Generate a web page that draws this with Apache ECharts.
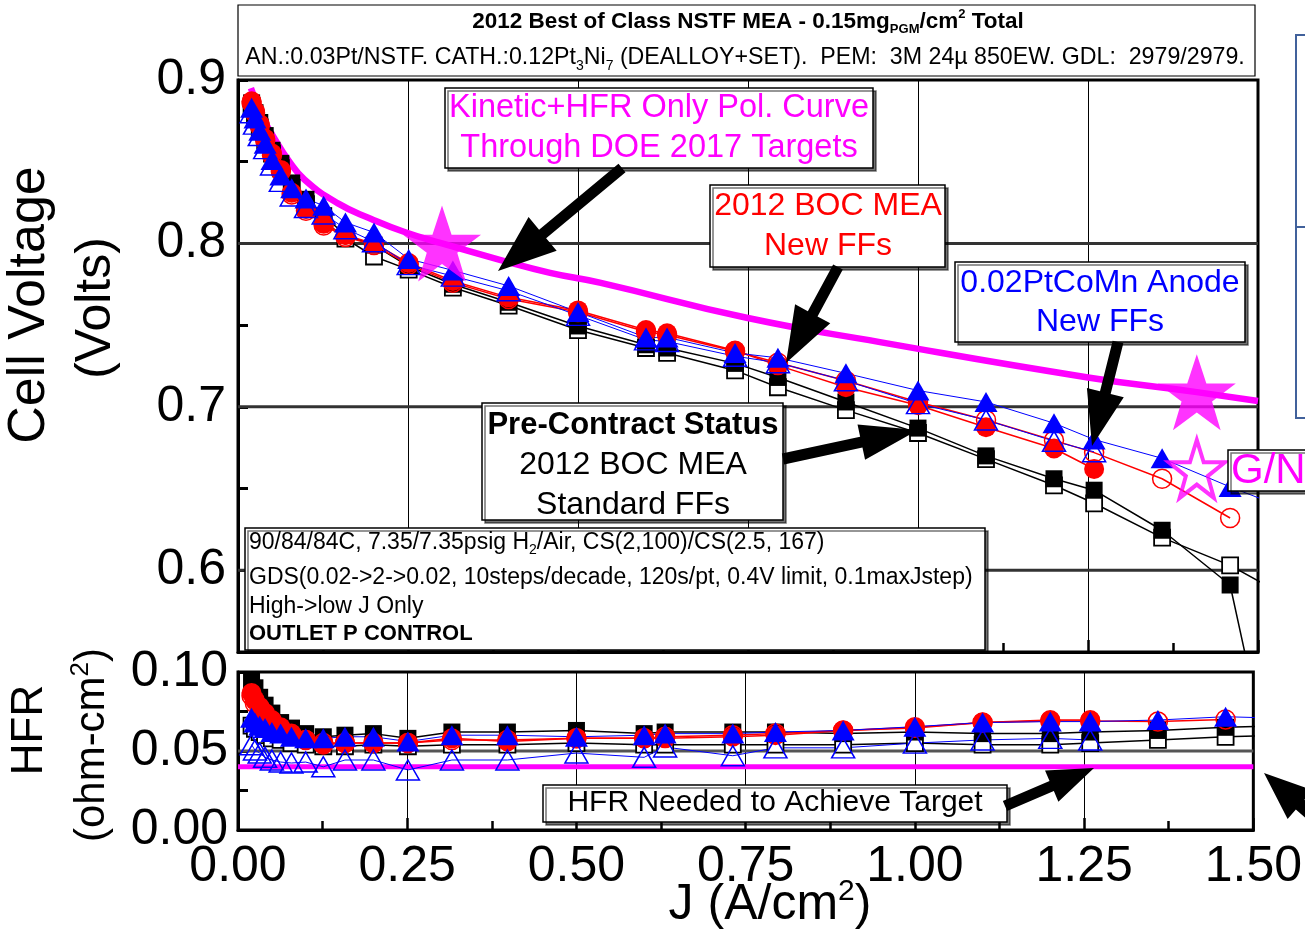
<!DOCTYPE html>
<html><head><meta charset="utf-8">
<script src="https://cdn.jsdelivr.net/npm/echarts@6/dist/echarts.min.js"></script>
<style>html,body{margin:0;padding:0;background:#fff}#c{width:1305px;height:943px}</style>
</head><body><div id="c"></div>
<script>
// ---------- DATA ----------
const J = [0.02,0.025,0.032,0.04,0.05,0.063,0.079,0.1,0.126,0.158,0.2,0.251,0.316,0.398,0.5,0.6,0.631,0.731,0.794,0.894,1.0,1.1,1.2,1.259,1.359,1.459,1.559];

// Cell voltage (V)
const vBlackOpen   = [0.884,0.878,0.871,0.863,0.855,0.846,0.834,0.824,0.814,0.803,0.792,0.784,0.773,0.762,0.747,0.736,0.733,0.7223,0.712,0.698,0.684,0.668,0.652,0.641,0.620,0.603,0.580];
const vBlackFilled = [0.886,0.880,0.874,0.866,0.857,0.849,0.837,0.827,0.817,0.805,0.799,0.786,0.775,0.764,0.7495,0.738,0.736,0.7266,0.718,0.703,0.687,0.670,0.656,0.649,0.6245,0.591,0.400];
const vRedOpen     = [0.886,0.880,0.872,0.863,0.854,0.844,0.830,0.820,0.811,0.804,0.799,0.787,0.776,0.766,0.758,0.746,0.744,0.734,0.727,0.716,0.703,0.692,0.6795,0.672,0.656,0.632];
const vRedFilled   = [0.887,0.881,0.873,0.864,0.855,0.845,0.831,0.821,0.812,0.805,0.800,0.788,0.777,0.767,0.759,0.747,0.745,0.7345,0.7254,0.712,0.701,0.6875,0.6745,0.662];
const vBlueOpen    = [0.880,0.873,0.866,0.858,0.848,0.838,0.829,0.822,0.818,0.809,0.801,0.787,0.780,0.771,0.756,0.741,0.740,0.731,0.727,0.716,0.702,0.692,0.679,0.6725];
const vBlueFilled  = [0.883,0.8765,0.869,0.861,0.851,0.8416,0.8337,0.8275,0.823,0.8128,0.8067,0.7905,0.7835,0.774,0.758,0.7425,0.7425,0.733,0.730,0.7205,0.710,0.703,0.690,0.680,0.6685,0.651,0.635];

// HFR (ohm-cm2)
const hBlackOpen   = [0.066,0.064,0.062,0.060,0.058,0.057,0.055,0.054,0.053,0.053,0.054,0.053,0.054,0.054,0.055,0.054,0.054,0.054,0.054,0.054,0.055,0.054,0.054,0.055,0.057,0.059,0.060];
const hBlackFilled = [0.095,0.090,0.084,0.079,0.074,0.068,0.0645,0.061,0.059,0.060,0.061,0.058,0.062,0.062,0.063,0.061,0.062,0.062,0.062,0.061,0.062,0.061,0.061,0.062,0.063,0.065,0.066];
const hRedOpen     = [0.085,0.080,0.076,0.072,0.068,0.064,0.060,0.057,0.055,0.055,0.055,0.055,0.057,0.057,0.058,0.058,0.059,0.060,0.061,0.063,0.065,0.068,0.069,0.069,0.0686,0.070];
const hRedFilled   = [0.0867,0.082,0.078,0.074,0.0696,0.065,0.061,0.057,0.054,0.055,0.055,0.055,0.058,0.056,0.058,0.058,0.058,0.059,0.060,0.063,0.0645,0.068,0.0696,0.0696];
const hBlueOpen    = [0.054,0.0506,0.0487,0.046,0.0443,0.043,0.0424,0.043,0.040,0.0443,0.0443,0.038,0.0443,0.0443,0.0487,0.046,0.0525,0.047,0.052,0.052,0.055,0.057,0.058,0.057];
const hBlueFilled  = [0.071,0.068,0.066,0.0645,0.062,0.061,0.059,0.058,0.058,0.059,0.059,0.056,0.060,0.060,0.059,0.060,0.061,0.061,0.062,0.063,0.0654,0.068,0.0686,0.0686,0.0696,0.0717,0.0705];

// Kinetic + HFR only polarization curve
const curveJ = [0.019,0.03,0.04,0.054,0.074,0.098,0.147,0.196,0.245,0.3,0.385,0.459,0.532,0.748,0.944,1.25,1.41,1.5];
const curveV = [0.895,0.883,0.874,0.864,0.851,0.839,0.8245,0.815,0.807,0.800,0.790,0.782,0.776,0.7545,0.7396,0.718,0.709,0.7036];

// DOE targets (stars)
const starJ = [0.3, 1.41];
const starV = [0.8, 0.709];
const openStarJ = [1.41];
const openStarV = [0.662];

// HFR target line
const hfrTargetJ = [0, 1.5];
const hfrTargetV = [0.04, 0.04];

// reference grid lines and axis ranges
const vGrid = [0.6, 0.7, 0.8];
const hGrid = [0.05];
const xTicks = [0, 1.5, 0.25]; // min, max, interval
const vAxis = [0.55, 0.9, 0.05];
const hAxis = [0, 0.1, 0.025];

// ---------- CHART ----------
const FONT = 'Liberation Sans, Arial, sans-serif';
const zip = (xs, ys) => ys.map((y, i) => [xs[i], y]);
const BLACK = '#000', RED = '#ff0000', BLUE = '#0000ff', MAG = '#ff00ff';

function ds(name, gi, ys, sym, size, fill, stroke, bw, lw) {
  return {
    name, type: 'line', xAxisIndex: gi, yAxisIndex: gi,
    data: zip(J, ys), symbol: sym, symbolSize: size, showAllSymbol: true,
    itemStyle: { color: fill, borderColor: stroke, borderWidth: bw },
    lineStyle: { color: stroke, width: lw }, z: 3, clip: true
  };
}
const gridSeries = (gi, vals, color, w) => vals.map(v => ({
  type: 'line', xAxisIndex: gi, yAxisIndex: gi, data: [[xTicks[0], v], [xTicks[1], v]],
  symbol: 'none', lineStyle: { color, width: w }, z: 1, silent: true
}));

const STAR = 'path://M50,0 L61.8,35.1 L98.1,35.1 L68.8,56.7 L79.4,91 L50,70 L20.6,91 L31.2,56.7 L1.9,35.1 L38.2,35.1 Z';
const TRI = [23, 20];

const series = [
  ...gridSeries(0, vGrid, '#333', 3),
  ...gridSeries(1, hGrid, '#555', 3),
  { type: 'line', xAxisIndex: 0, yAxisIndex: 0, data: zip(curveJ, curveV), smooth: true, symbol: 'none',
    lineStyle: { color: MAG, width: 6.5 }, z: 2 },
  { type: 'line', xAxisIndex: 1, yAxisIndex: 1, data: zip(hfrTargetJ, hfrTargetV), symbol: 'none',
    lineStyle: { color: MAG, width: 5 }, z: 2 },
  ds('bo', 0, vBlackOpen, 'rect', 16, '#fff', BLACK, 1.8, 1.5),
  ds('bf', 0, vBlackFilled, 'rect', 17, BLACK, BLACK, 0, 1.5),
  ds('ro', 0, vRedOpen, 'circle', 19, 'rgba(0,0,0,0)', RED, 1.5, 1.5),
  ds('rf', 0, vRedFilled, 'circle', 20, RED, RED, 0, 1.5),
  ds('uo', 0, vBlueOpen, 'triangle', TRI, 'rgba(0,0,0,0)', BLUE, 1.5, 1),
  ds('uf', 0, vBlueFilled, 'triangle', TRI, BLUE, BLUE, 0, 1),
  ds('hbo', 1, hBlackOpen, 'rect', 16, '#fff', BLACK, 1.8, 1.5),
  ds('hbf', 1, hBlackFilled, 'rect', 17, BLACK, BLACK, 0, 1.5),
  ds('hro', 1, hRedOpen, 'circle', 19, 'rgba(0,0,0,0)', RED, 1.5, 1.5),
  ds('hrf', 1, hRedFilled, 'circle', 20, RED, RED, 0, 1.5),
  ds('huo', 1, hBlueOpen, 'triangle', TRI, 'rgba(0,0,0,0)', BLUE, 1.5, 1),
  ds('huf', 1, hBlueFilled, 'triangle', TRI, BLUE, BLUE, 0, 1),
  { type: 'scatter', xAxisIndex: 0, yAxisIndex: 0, data: zip(starJ, starV), symbol: STAR, symbolSize: [78, 76],
    itemStyle: { color: MAG }, z: 5 },
  { type: 'scatter', xAxisIndex: 0, yAxisIndex: 0, data: zip(openStarJ, openStarV), symbol: STAR, symbolSize: [56, 58],
    itemStyle: { color: 'rgba(255,255,255,0)', borderColor: MAG, borderWidth: 4 }, z: 5 }
];

const axisLabelStyle = { color: '#000', fontSize: 50, fontFamily: FONT };
const option = {
  animation: false,
  backgroundColor: '#fff',
  grid: [
    { left: 238, top: 80, width: 1020, height: 572, show: true, borderColor: '#000', borderWidth: 3, backgroundColor: 'transparent' },
    { left: 238, top: 672, width: 1020, height: 158, show: true, borderColor: '#000', borderWidth: 3, backgroundColor: 'transparent' }
  ],
  xAxis: [0, 1].map(gi => ({
    type: 'value', gridIndex: gi, min: xTicks[0], max: xTicks[1], interval: xTicks[2],
    axisLine: { lineStyle: { color: '#000', width: 3 } },
    axisTick: { inside: true, length: 12, lineStyle: { color: '#000', width: 2.5 } },
    minorTick: { show: true, splitNumber: 2, length: 9, lineStyle: { color: '#000', width: 2.5 } },
    splitLine: { show: true, lineStyle: { color: '#000', width: 1 } },
    axisLabel: gi === 1 ? Object.assign({ margin: 12, formatter: v => v.toFixed(2) }, axisLabelStyle) : { show: false }
  })),
  yAxis: [
    { type: 'value', gridIndex: 0, min: vAxis[0], max: vAxis[1], interval: vAxis[2],
      axisLine: { lineStyle: { color: '#000', width: 3 } },
      axisTick: { inside: true, length: 10, lineStyle: { color: '#000', width: 3 } },
      splitLine: { show: false },
      axisLabel: Object.assign({ margin: 12, showMinLabel: true, showMaxLabel: true,
        formatter: v => Math.abs(v * 10 - Math.round(v * 10)) < 1e-6 ? v.toFixed(1) : '' }, axisLabelStyle) },
    { type: 'value', gridIndex: 1, min: hAxis[0], max: hAxis[1], interval: hAxis[2],
      axisLine: { lineStyle: { color: '#000', width: 3 } },
      axisTick: { inside: true, length: 10, lineStyle: { color: '#000', width: 3 } },
      splitLine: { show: false },
      axisLabel: Object.assign({ margin: 10, showMinLabel: true, showMaxLabel: true,
        formatter: v => Math.abs(v * 20 - Math.round(v * 20)) < 1e-6 ? v.toFixed(2) : '' }, axisLabelStyle) }
  ],
  series
};

// ---------- ANNOTATIONS ----------
const G = [];
const SH = { shadowColor: 'rgba(0,0,0,0.55)', shadowOffsetX: 3, shadowOffsetY: 3, shadowBlur: 0 };
function box(x, y, w, h, extra) {
  G.push({ type: 'rect', z: 100, shape: { x, y, width: w, height: h },
    style: Object.assign({ fill: '#fff', stroke: '#000', lineWidth: 1.5 }, SH, extra || {}) });
}
function txt(x, y, text, o) {
  G.push({ type: 'text', z: 102, x, y, rotation: (o && o.rot) || 0,
    style: Object.assign({ text, fill: '#000', fontFamily: FONT, fontSize: 32, align: 'center', verticalAlign: 'middle' }, o || {}) });
}
function arrow(x1, y1, x2, y2, sw, hl, hw) {
  const dx = x2 - x1, dy = y2 - y1, L = Math.hypot(dx, dy), ux = dx / L, uy = dy / L, nx = -uy, ny = ux;
  const bx = x2 - ux * hl, by = y2 - uy * hl;
  const p = [
    [x1 + nx * sw / 2, y1 + ny * sw / 2], [bx + nx * sw / 2, by + ny * sw / 2], [bx + nx * hw / 2, by + ny * hw / 2],
    [x2, y2], [bx - nx * hw / 2, by - ny * hw / 2], [bx - nx * sw / 2, by - ny * sw / 2], [x1 - nx * sw / 2, y1 - ny * sw / 2]
  ];
  G.push({ type: 'polygon', z: 103, shape: { points: p }, style: { fill: '#000' } });
}

// title box
box(238, 5, 1017, 71, { shadowOffsetX: 0, shadowOffsetY: 0, lineWidth: 1.2 });
txt(748, 22, '{b|2012 Best of Class NSTF MEA - 0.15mg}{bs|PGM}{b|/cm}{bp|2}{b| Total}', {
  rich: { b: { fontSize: 22.5, fontWeight: 'bold', fontFamily: FONT, lineHeight: 28 },
          bs: { fontSize: 13, fontWeight: 'bold', fontFamily: FONT, verticalAlign: 'bottom', lineHeight: 28 },
          bp: { fontSize: 13, fontWeight: 'bold', fontFamily: FONT, verticalAlign: 'top', lineHeight: 28 } } });
txt(745, 58, '{n|AN.:0.03Pt/NSTF. CATH.:0.12Pt}{s|3}{n|Ni}{s|7}{n| (DEALLOY+SET).  PEM:  3M 24\u00b5 850EW. GDL:  2979/2979.}', {
  rich: { n: { fontSize: 23.2, fontFamily: FONT, lineHeight: 30 },
          s: { fontSize: 14, fontFamily: FONT, verticalAlign: 'bottom', lineHeight: 30 } } });

// right clipped legend box
G.push({ type: 'rect', z: 100, shape: { x: 1296, y: 35, width: 80, height: 383 }, style: { fill: '#fff', stroke: '#41619b', lineWidth: 2 } });
G.push({ type: 'line', z: 101, shape: { x1: 1296, y1: 227, x2: 1310, y2: 227 }, style: { stroke: '#41619b', lineWidth: 2 } });

// Kinetic box
box(445, 88, 428, 80);
txt(659, 108, 'Kinetic+HFR Only Pol. Curve', { fill: MAG, fontSize: 32.5 });
txt(659, 148, 'Through DOE 2017 Targets', { fill: MAG, fontSize: 32.5 });
arrow(622, 168, 498, 271, 11, 58, 44);

// BOC new FFs
box(710, 185, 235, 82);
txt(828, 206, '2012 BOC MEA', { fill: RED });
txt(828, 246, 'New FFs', { fill: RED });
arrow(838, 267, 786, 363, 11, 56, 40);

// PtCoMn
box(955, 262, 290, 80);
txt(1100, 283, '0.02PtCoMn Anode', { fill: BLUE });
txt(1100, 322, 'New FFs', { fill: BLUE });
arrow(1118, 342, 1092, 446, 11, 55, 38);

// Pre-contract
box(482, 403, 301, 117);
txt(633, 425, 'Pre-Contract Status', { fontWeight: 'bold', fontSize: 31 });
txt(633, 465, '2012 BOC MEA');
txt(633, 505, 'Standard FFs');
arrow(783, 459, 918, 430, 11, 58, 36);

// G/NG
box(1228, 450, 100, 41);
txt(1231, 471, 'G/NG', { fill: MAG, fontSize: 42, align: 'left' });

// conditions box
box(245, 528, 740, 122);
txt(249, 543, '{n|90/84/84C, 7.35/7.35psig H}{s|2}{n|/Air, CS(2,100)/CS(2.5, 167)}', { align: 'left',
  rich: { n: { fontSize: 23, fontFamily: FONT, lineHeight: 28 }, s: { fontSize: 14, fontFamily: FONT, verticalAlign: 'bottom', lineHeight: 28 } } });
txt(249, 578, 'GDS(0.02->2->0.02, 10steps/decade, 120s/pt, 0.4V limit, 0.1maxJstep)', { align: 'left', fontSize: 23 });
txt(249, 607, 'High->low J Only', { align: 'left', fontSize: 23 });
txt(249, 634, 'OUTLET P CONTROL', { align: 'left', fontSize: 22, fontWeight: 'bold' });

// HFR needed
box(543, 785, 464, 37);
txt(775, 803, 'HFR Needed to Achieve Target', { fontSize: 30 });
arrow(1005, 806, 1094, 768, 11, 46, 34);
arrow(1320, 822, 1264, 773, 13, 48, 38);

// axis titles
txt(30, 305, 'Cell Voltage', { fontSize: 52, rot: Math.PI / 2 });
txt(96, 308, '(Volts)', { fontSize: 50, rot: Math.PI / 2 });
txt(30, 730, 'HFR', { fontSize: 44, rot: Math.PI / 2 });
txt(92, 745, '{n|(ohm-cm}{s|2}{n|)}', { rot: Math.PI / 2,
  rich: { n: { fontSize: 42, fontFamily: FONT, lineHeight: 48 }, s: { fontSize: 26, fontFamily: FONT, verticalAlign: 'top', lineHeight: 48 } } });
txt(770, 905, '{n|J (A/cm}{s|2}{n|)}', {
  rich: { n: { fontSize: 50, fontFamily: FONT, lineHeight: 56 }, s: { fontSize: 30, fontFamily: FONT, verticalAlign: 'top', lineHeight: 56 } } });

option.graphic = { elements: G };

const chart = echarts.init(document.getElementById('c'), null, { renderer: 'canvas' });
chart.setOption(option);
</script>
</body></html>
